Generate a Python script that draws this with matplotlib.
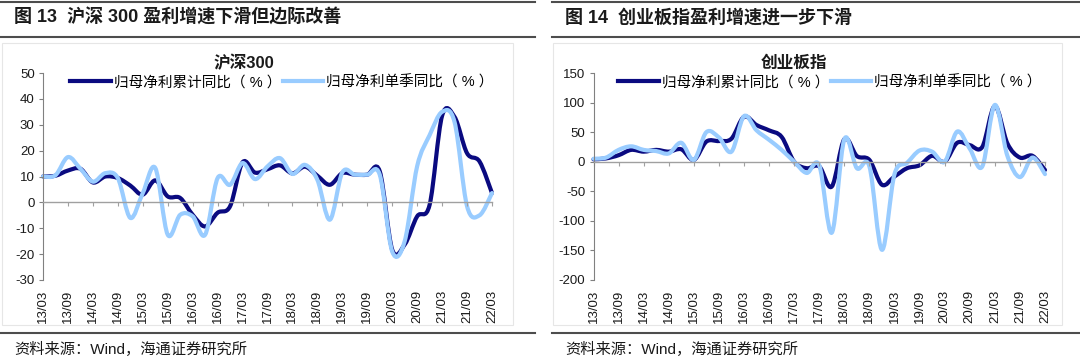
import numpy as np
import matplotlib
matplotlib.use('Agg')
import matplotlib.pyplot as plt
from matplotlib.path import Path
from matplotlib.patches import PathPatch, Rectangle
from matplotlib.lines import Line2D

plt.rcParams['font.family'] = ['Liberation Sans', 'Noto Sans CJK SC', 'DejaVu Sans']

# ---------------- data ----------------
quarters = ['13/03', '13/06', '13/09', '13/12', '14/03', '14/06', '14/09', '14/12',
            '15/03', '15/06', '15/09', '15/12', '16/03', '16/06', '16/09', '16/12',
            '17/03', '17/06', '17/09', '17/12', '18/03', '18/06', '18/09', '18/12',
            '19/03', '19/06', '19/09', '19/12', '20/03', '20/06', '20/09', '20/12',
            '21/03', '21/06', '21/09', '21/12', '22/03']
tick_labels = ['13/03', '13/09', '14/03', '14/09', '15/03', '15/09', '16/03', '16/09',
               '17/03', '17/09', '18/03', '18/09', '19/03', '19/09', '20/03', '20/09',
               '21/03', '21/09', '22/03']

hs300_cum = [10.0, 10.3, 12.3, 13.0, 7.7, 10.0, 9.4, 6.5, 3.0, 8.5, 2.3, 1.7, -4.8,
             -9.3, -4.0, -1.5, 15.5, 11.5, 12.8, 14.3, 11.2, 13.8, 10.3, 6.8, 11.3,
             10.7, 10.7, 12.0, -18.3, -16.3, -5.4, -0.9, 33.5, 33.0, 19.0, 15.8, 3.6]
hs300_q = [10.0, 10.5, 17.5, 13.0, 8.0, 11.3, 9.4, -6.0, 3.6, 13.3, -12.5, -4.8, -5.4,
           -12.5, 9.4, 6.8, 15.2, 9.0, 13.9, 17.1, 11.0, 14.5, 8.7, -6.7, 11.6,
           10.7, 10.7, 10.7, -19.0, -15.0, 14.0, 26.0, 35.0, 31.0, -1.5, -5.0, 3.6]

cyb_cum = [4, 5.6, 11, 20, 17, 20, 17, 21, 3, 34, 35, 39, 76, 62, 53, 42, 0, -11, -8,
           -42, 38, 9.6, 3, -39, -25, -11, -6, 10, 0, 32, 28, 25, 94, 31, 7, 10, -14]
cyb_q = [5, 7, 20, 26, 20, 18, 14, 32, 3, 50, 41, 17, 77, 53, 37, 20, 0, -19, -6,
         -120, 38, -11, -8, -149, -21, -2, 19, 17, 0, 51, 22, -8, 96, 10, -26, 7, -21]

panels = [
    dict(header='图 13  沪深 300 盈利增速下滑但边际改善', name='沪深300',
         cum=hs300_cum, q=hs300_q, ylim=(-30, 50), yticks=[-30, -20, -10, 0, 10, 20, 30, 40, 50]),
    dict(header='图 14  创业板指盈利增速进一步下滑', name='创业板指',
         cum=cyb_cum, q=cyb_q, ylim=(-200, 150), yticks=[-200, -150, -100, -50, 0, 50, 100, 150]),
]
series_names = ['归母净利累计同比（ % ）', '归母净利单季同比（ % ）']
dark = '#0A0A80'
light = '#99CCFF'

# ---------------- helpers ----------------
def smooth_path(x, y):
    x = np.asarray(x, float)
    y = np.asarray(y, float)
    n = len(x)
    verts = [(x[0], y[0])]
    codes = [Path.MOVETO]
    for i in range(n - 1):
        i0 = max(i - 1, 0)
        i3 = min(i + 2, n - 1)
        c1 = (x[i] + (x[i + 1] - x[i0]) / 6, y[i] + (y[i + 1] - y[i0]) / 6)
        c2 = (x[i + 1] - (x[i3] - x[i]) / 6, y[i + 1] - (y[i3] - y[i]) / 6)
        verts += [c1, c2, (x[i + 1], y[i + 1])]
        codes += [Path.CURVE4] * 3
    return Path(verts, codes)

fig = plt.figure(figsize=(10.8, 3.6), dpi=100)
W, H = 1080, 360

def fx(px):
    return px / W

def fy(py):
    return 1 - py / H

layout = [
    dict(x0=0, x1=535, ax_left=43, ax_right=492, frame=(2, 513), title_x=244, text_x=14,
         leg_x=70),
    dict(x0=552, x1=1080, ax_left=593.5, ax_right=1045, frame=(553, 1062), title_x=794,
         text_x=565, leg_x=618),
]

for p, L in zip(panels, layout):
    # header lines
    for ypix in (2, 37, 333):
        fig.add_artist(Line2D([fx(L['x0']), fx(L['x1'])], [fy(ypix), fy(ypix)],
                              transform=fig.transFigure, color='#4d4d4d', lw=1.5))
    fig.text(fx(L['text_x']), fy(18), p['header'], fontsize=13, fontweight='bold',
             color='#1a1a1a', va='center', ha='left')
    fig.text(fx(L['text_x']), fy(349), '资料来源：Wind，海通证券研究所', fontsize=11,
             color='#1a1a1a', va='center', ha='left')
    # chart frame
    fig.add_artist(Rectangle((fx(L['frame'][0]), fy(325)),
                             (L['frame'][1] - L['frame'][0]) / W, (325 - 43) / H,
                             transform=fig.transFigure, fill=False, edgecolor='#e6e6e6', lw=0.8))
    # chart title
    fig.text(fx(L['title_x']), fy(63), p['name'], fontsize=12, fontweight='bold',
             color='#1a1a1a', ha='center', va='center')

    ax = fig.add_axes([fx(L['ax_left']), fy(280), (L['ax_right'] - L['ax_left']) / W, 207 / H])
    ax.patch.set_alpha(0)
    xs = np.arange(len(quarters))
    for vals, col in ((p['cum'], dark), (p['q'], light)):
        patch = PathPatch(smooth_path(xs, vals), fill=False, edgecolor=col, lw=3.0,
                          capstyle='round', joinstyle='round', clip_on=False)
        ax.add_patch(patch)
    ax.set_xlim(0, len(quarters) - 1)
    ax.set_ylim(*p['ylim'])
    ax.set_yticks(p['yticks'])
    ax.set_yticklabels([str(v) for v in p['yticks']])
    for s in ('top', 'right'):
        ax.spines[s].set_visible(False)
    ax.spines['left'].set_color('#808080')
    ax.spines['left'].set_linewidth(0.8)
    ax.spines['bottom'].set_position(('data', 0))
    ax.spines['bottom'].set_color('#a0a0a0')
    ax.spines['bottom'].set_linewidth(1.0)
    ax.tick_params(axis='y', direction='out', length=3, width=0.8, color='#808080',
                   labelsize=9.5, labelcolor='#1a1a1a', pad=3)
    tick_pos = [quarters.index(t) for t in tick_labels]
    ax.set_xticks(tick_pos)
    ax.tick_params(axis='x', direction='out', length=3, width=0.8, color='#a0a0a0',
                   labelbottom=False)
    sec = ax.secondary_xaxis(0)
    sec.set_xticks(tick_pos)
    sec.set_xticklabels(tick_labels, rotation=90)
    sec.tick_params(length=0, labelsize=9.5, labelcolor='#1a1a1a', pad=7)
    sec.spines['bottom'].set_visible(False)

    handles = [Line2D([], [], color=dark, lw=3.0), Line2D([], [], color=light, lw=3.0)]
    fig.legend(handles, series_names, loc='center left',
               bbox_to_anchor=(fx(L['leg_x']), fy(82)), ncol=2, frameon=False,
               handlelength=2.8, handletextpad=0.2, columnspacing=0.1,
               borderpad=0, borderaxespad=0, prop={'size': 10.5})

fig.savefig('out.png', dpi=100)
